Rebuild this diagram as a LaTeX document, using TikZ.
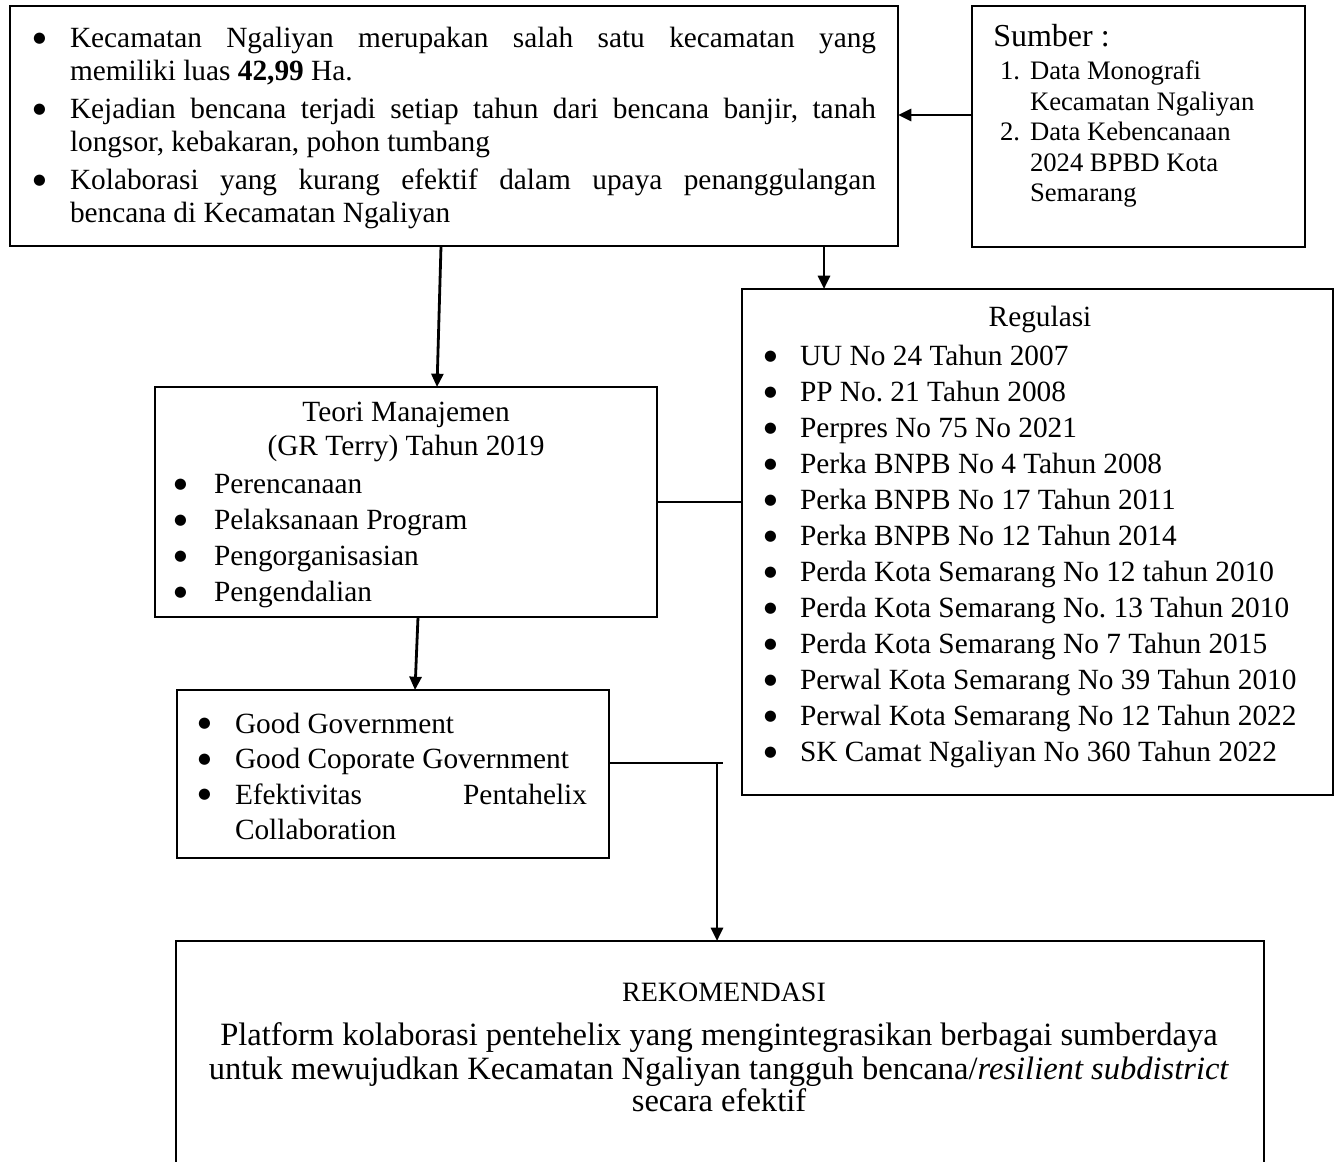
\documentclass[tikz,border=0pt]{standalone}
\usepackage{fontspec}
\setmainfont{Liberation Serif}
\newfontfamily\dejavu{DejaVu Sans}
\usetikzlibrary{arrows.meta,fit}
\newcommand{\bdot}{{\dejavu\fontsize{11}{11}\selectfont\raisebox{4.3pt}{●}}}
\newcommand{\bitem}[2]{\par\noindent\hangindent=#1\hangafter=1\strut\makebox[#1][l]{\bdot}#2\par}
\newcommand{\nitem}[3]{\par\noindent\hangindent=#1\hangafter=1\strut\makebox[#1][l]{#2}#3\par}
\newcommand{\fA}{\fontsize{22}{24.4}\selectfont}
\newcommand{\fR}{\fontsize{22}{27}\selectfont}
\newcommand{\fG}{\fontsize{22}{26.5}\selectfont}
\newcommand{\fT}{\fontsize{22}{25.5}\selectfont}
\newcommand{\fS}{\fontsize{20}{22.9}\selectfont}
\newcommand{\fK}{\fontsize{24.4}{24}\selectfont}
\tikzset{
  box/.style={draw, line width=1.7pt, inner sep=0pt, outer sep=0pt},
  arr/.style={line width=2.1pt, -{Triangle[length=10pt,width=9pt]}},
  conn/.style={line width=1.8pt},
  txt/.style={inner sep=0pt, outer sep=0pt, anchor=north west, align=justify},
  ctxt/.style={inner sep=0pt, outer sep=0pt, align=center},
}
\begin{document}
\begin{tikzpicture}[x=0.75pt,y=-0.75pt]
\useasboundingbox (0,0) rectangle (1341,1161);
\clip (0,0) rectangle (1341,1161);
% boxes
\node[box, fit={(10,6) (898,246)}] (A) {};
\node[box, fit={(972,6) (1305,247)}] (S) {};
\node[box, fit={(742,289) (1333,795)}] (R) {};
\node[box, fit={(155,387) (657,617)}] (T) {};
\node[box, fit={(177,690) (609,858)}] (G) {};
\node[box, fit={(176,941) (1264,1250)}] (K) {};
% texts
\node[txt, text width=632.25pt, font=\fA] (Atext) at (33,9.2) {\frenchspacing\parindent=0pt\parskip=4.5pt
\bitem{27.75pt}{Kecamatan Ngaliyan merupakan salah satu kecamatan yang\linebreak memiliki luas \textbf{42,99} Ha.}
\bitem{27.75pt}{Kejadian bencana terjadi setiap tahun dari bencana banjir, tanah\linebreak longsor, kebakaran, pohon tumbang}
\bitem{27.75pt}{Kolaborasi yang kurang efektif dalam upaya penanggulangan\linebreak bencana di Kecamatan Ngaliyan}};
\node[inner sep=0pt, anchor=base west, font=\fontsize{24}{28}\selectfont] (Stitle) at (993,46) {Sumber :};
\node[txt, text width=217.5pt, font=\fS] (Stext) at (1000,49.2) {\frenchspacing\parindent=0pt
\nitem{22.5pt}{1.}{Data Monografi\newline Kecamatan Ngaliyan}
\nitem{22.5pt}{2.}{Data Kebencanaan\newline 2024 BPBD Kota\newline Semarang}};
\node[inner sep=0pt, anchor=base, font=\fR] (Rtitle) at (1040,326) {Regulasi};
\node[txt, text width=420.75pt, font=\fR] (Rtext) at (764,329.8) {\frenchspacing\parindent=0pt
\bitem{27pt}{UU No 24 Tahun 2007}
\bitem{27pt}{PP No. 21 Tahun 2008}
\bitem{27pt}{Perpres No 75 No 2021}
\bitem{27pt}{Perka BNPB No 4 Tahun 2008}
\bitem{27pt}{Perka BNPB No 17 Tahun 2011}
\bitem{27pt}{Perka BNPB No 12 Tahun 2014}
\bitem{27pt}{Perda Kota Semarang No 12 tahun 2010}
\bitem{27pt}{Perda Kota Semarang No. 13 Tahun 2010}
\bitem{27pt}{Perda Kota Semarang No 7 Tahun 2015}
\bitem{27pt}{Perwal Kota Semarang No 39 Tahun 2010}
\bitem{27pt}{Perwal Kota Semarang No 12 Tahun 2022}
\bitem{27pt}{SK Camat Ngaliyan No 360 Tahun 2022}};
\node[ctxt, anchor=north, font=\fT] (Ttitle) at (406,397.2) {\strut Teori Manajemen\\(GR Terry) Tahun 2019};
\node[txt, text width=349.5pt, font=\fR] (Ttext) at (174,457.8) {\parindent=0pt
\bitem{30pt}{Perencanaan}
\bitem{30pt}{Pelaksanaan Program}
\bitem{30pt}{Pengorganisasian}
\bitem{30pt}{Pengendalian}};
\node[txt, text width=291.75pt, font=\fG] (Gtext) at (198,698.3) {\parindent=0pt
\bitem{27.75pt}{Good Government}
\bitem{27.75pt}{Good Coporate Government}
\bitem{27.75pt}{Efektivitas Pentahelix\linebreak Collaboration}};
\node[inner sep=0pt, anchor=base, font=\fontsize{21}{25}\selectfont] (Ktitle) at (724,1001) {REKOMENDASI};
\node[ctxt, anchor=north, font=\fK] (Ktext) at (719,1022.6) {\strut Platform kolaborasi pentehelix yang mengintegrasikan berbagai sumberdaya\\untuk mewujudkan Kecamatan Ngaliyan tangguh bencana/\textit{resilient subdistrict}\\secara efektif};
% connector coordinates
\coordinate (x441) at (441,0);
\coordinate (x437) at (437,0);
\coordinate (x824) at (824,0);
\coordinate (x418) at (418,0);
\coordinate (x415) at (415,0);
\coordinate (x717) at (717,0);
\coordinate (y115) at (0,115);
\coordinate (y763) at (0,763);
\coordinate (turn) at (723,763);
% connectors
\draw[arr] (S.west |- y115) -- (A.east |- y115);
\draw[arr] (x441 |- A.south) -- (x437 |- T.north);
\draw[arr] (x824 |- A.south) -- (x824 |- R.north);
\draw[conn] (T.east) -- (T.east -| R.west);
\draw[arr] (x418 |- T.south) -- (x415 |- G.north);
\draw[conn, line width=2.1pt] (G.east |- y763) -- (turn);
\draw[arr] (x717 |- turn) -- (x717 |- K.north);
\end{tikzpicture}
\end{document}
